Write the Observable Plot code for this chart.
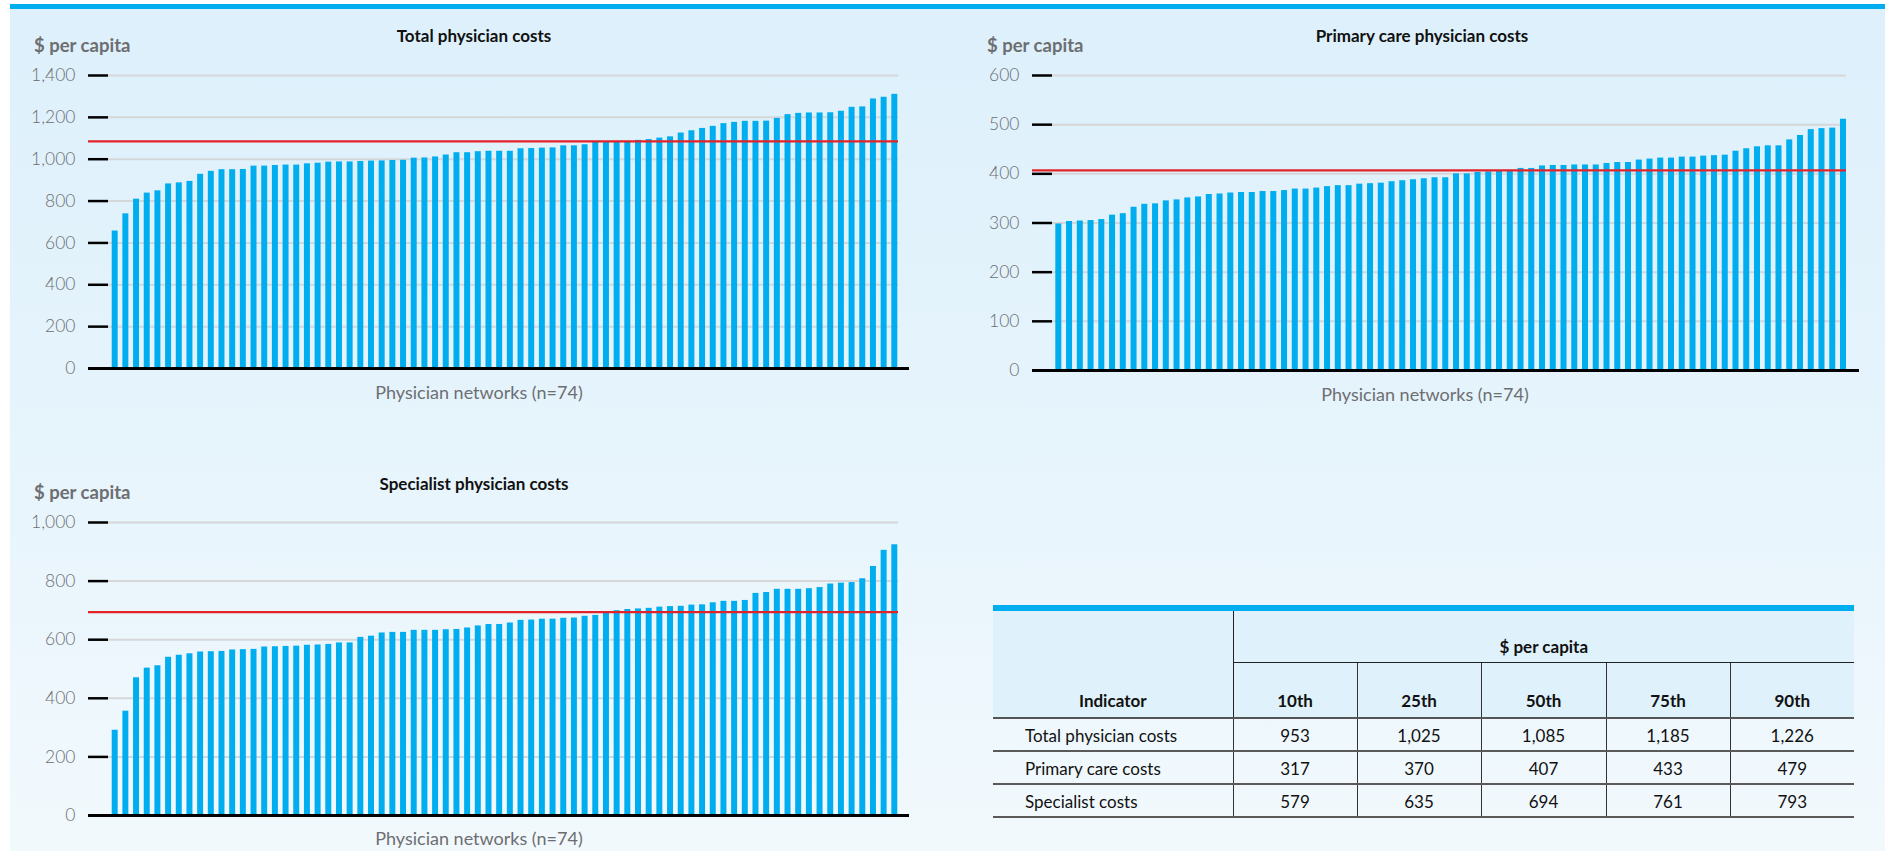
<!DOCTYPE html>
<html>
<head>
<meta charset="utf-8">
<script src="https://cdn.jsdelivr.net/npm/d3@7"></script>
<script src="https://cdn.jsdelivr.net/npm/@observablehq/plot@0.6"></script>
<style>
  html, body { margin: 0; padding: 0; }
  body {
    width: 1885px; height: 851px; position: relative; overflow: hidden;
    background: #ffffff; font-family: Lato, "Open Sans", "DejaVu Sans", sans-serif;
  }
  #panel {
    position: absolute; left: 10px; top: 4px; right: 0; bottom: 0;
    border-top: 5px solid #00aeef;
    background: linear-gradient(to bottom, #ddf0fb 0%, #e6f4fc 50%, #f2f9fd 100%);
  }
  .chart { position: absolute; }
  .chart svg { display: block; }
  .title, .unit, .xlabel { position: absolute; white-space: nowrap; line-height: 20px; }
  .title { font-weight: 700; font-size: 17px; color: #111; transform: translateX(-50%); }
  .unit { font-weight: 700; font-size: 18.5px; color: #6d6e71; }
  .xlabel { font-size: 18px; color: #6d6e71; transform: translateX(-50%); }
  #pct {
    position: absolute; left: 993px; top: 605px; width: 861px;
    border-collapse: collapse; table-layout: fixed;
    font-size: 17px; color: #111;
  }
  #pct thead tr:first-child th { border-top: 6px solid #00aeef; }
  #pct th { background: #dff1fb; font-weight: 700; padding: 0; }
  #pct td { padding: 2px 0 0 0; text-align: center; height: 29px; border-bottom: 2px solid #5a5a5a; border-left: 1.5px solid #333; }
  #pct td.ind { text-align: left; padding-left: 32px; border-left: none; }
</style>
</head>
<body>
<div id="panel"></div>
<div id="root"></div>
<script>
// Per-capita physician costs for each of the 74 physician networks, sorted ascending
const totalCosts = [657, 739, 809, 838, 849, 882, 887, 894, 928, 942,
  950, 950, 951, 967, 967, 970, 972, 972, 978, 981,
  986, 987, 987, 989, 991, 992, 994, 995, 1005, 1006,
  1011, 1020, 1031, 1031, 1036, 1038, 1038,
  1038, 1050, 1051, 1053, 1054, 1064, 1064, 1069, 1083, 1083,
  1083, 1083, 1090, 1094, 1101, 1107, 1125, 1136, 1147, 1157,
  1170, 1176, 1181, 1181, 1182, 1195, 1213, 1219, 1221, 1221,
  1222, 1229, 1248, 1250, 1288, 1296, 1310];

const primaryCosts = [298, 303, 304, 305, 307, 316, 319, 332, 338, 339,
  345, 347, 351, 353, 358, 359, 361, 362, 362, 364,
  364, 366, 369, 369, 371, 374, 376, 376, 379, 380,
  381, 384, 386, 388, 390, 392, 392,
  400, 400, 403, 404, 405, 407, 411, 411, 416, 417,
  417, 418, 418, 418, 421, 423, 423, 428, 430, 432,
  432, 434, 434, 436, 437, 438, 446, 451, 455, 457,
  457, 469, 478, 490, 492, 493, 511];

const specialistCosts = [291, 356, 470, 503, 511, 540, 547, 552, 558, 559,
  560, 565, 566, 567, 575, 576, 577, 578, 581, 582,
  584, 589, 589, 608, 612, 623, 625, 625, 632, 632,
  632, 634, 635, 640, 647, 652, 652,
  657, 666, 667, 670, 670, 673, 674, 680, 683, 691,
  699, 703, 705, 707, 711, 713, 714, 718, 719, 726,
  731, 731, 734, 758, 761, 772, 772, 772, 774, 778,
  790, 793, 795, 808, 850, 905, 924];

// Percentile summary table
const percentiles = ["10th", "25th", "50th", "75th", "90th"];
const indicators = ["Total physician costs", "Primary care costs", "Specialist costs"];
const totalPct = [953, 1025, 1085, 1185, 1226];
const primaryPct = [317, 370, 407, 433, 479];
const specialistPct = [579, 635, 694, 761, 793];

// Y-axis ticks per panel
const totalTicks = [0, 200, 400, 600, 800, 1000, 1200, 1400];
const primaryTicks = [0, 100, 200, 300, 400, 500, 600];
const specialistTicks = [0, 200, 400, 600, 800, 1000];

const chartTitles = ["Total physician costs", "Primary care physician costs", "Specialist physician costs"];
const unitLabel = "$ per capita";
const xLabel = "Physician networks (n=74)";

const fmt = d3.format(",");
const root = document.getElementById("root");

function costChart(o) {
  const data = o.values.map((v, i) => ({network: i + 1, cost: v}));
  return Plot.plot({
    width: o.width, height: o.height,
    marginLeft: o.marginLeft, marginRight: o.marginRight,
    marginTop: o.marginTop, marginBottom: o.marginBottom,
    style: {background: "transparent", overflow: "visible", fontFamily: "Lato, 'Open Sans', sans-serif"},
    x: {type: "band", domain: data.map(d => d.network), range: o.barRange, paddingInner: 0.44, paddingOuter: 0, axis: null},
    y: {domain: [0, o.max], axis: null},
    marks: [
      Plot.ruleY(o.ticks.filter(t => t > 0), {stroke: "#d5d7d9", strokeWidth: 2}),
      Plot.barY(data, {x: "network", y: "cost", fill: "#00aeef"}),
      Plot.ruleY([o.median], {stroke: "#e3232a", strokeWidth: 2.2, insetLeft: -20}),
      Plot.ruleY([0], {stroke: "#000", strokeWidth: 3, insetLeft: -20, insetRight: -o.baseExtra}),
      Plot.axisY({ticks: o.ticks, tickSize: 20, tickPadding: 13, tickFormat: fmt,
        stroke: "#000", strokeWidth: 2.5, fill: "#6d6e71", fontSize: 17.5, fontWeight: 300, label: null})
    ]
  });
}

function addText(cls, text, left, top) {
  const d = document.createElement("div");
  d.className = cls;
  d.textContent = text;
  d.style.left = left + "px";
  d.style.top = top + "px";
  root.appendChild(d);
}

function place(svg, left, top) {
  const d = document.createElement("div");
  d.className = "chart";
  d.style.left = left + "px";
  d.style.top = top + "px";
  d.appendChild(svg);
  root.appendChild(d);
}

// Total physician costs
place(costChart({values: totalCosts, median: totalPct[2], ticks: totalTicks, max: 1400,
  width: 920, height: 380, marginLeft: 108, marginRight: 22, marginTop: 75, marginBottom: 12,
  barRange: [111.7, 897.3], baseExtra: 11}), 0, 0);
addText("title", chartTitles[0], 474, 26);
addText("unit", unitLabel, 34, 35);
addText("xlabel", xLabel, 479, 382);

// Primary care physician costs
place(costChart({values: primaryCosts, median: primaryPct[2], ticks: primaryTicks, max: 600,
  width: 945, height: 382, marginLeft: 112, marginRight: 39, marginTop: 75, marginBottom: 12,
  barRange: [115.3, 906], baseExtra: 13}), 940, 0);
addText("title", chartTitles[1], 1422, 26);
addText("unit", unitLabel, 987, 35);
addText("xlabel", xLabel, 1425, 384);

// Specialist physician costs
place(costChart({values: specialistCosts, median: specialistPct[2], ticks: specialistTicks, max: 1000,
  width: 920, height: 387, marginLeft: 108, marginRight: 22, marginTop: 82, marginBottom: 12,
  barRange: [111.7, 897.3], baseExtra: 11}), 0, 440);
addText("title", chartTitles[2], 474, 474);
addText("unit", unitLabel, 34, 482);
addText("xlabel", xLabel, 479, 828);

// Percentile table
const table = document.createElement("table");
table.id = "pct";
const colgroup = document.createElement("colgroup");
[240, 124, 124, 125, 124, 124].forEach(w => {
  const c = document.createElement("col");
  c.style.width = w + "px";
  colgroup.appendChild(c);
});
table.appendChild(colgroup);
const thead = document.createElement("thead");
const h1 = document.createElement("tr");
const hInd = document.createElement("th");
hInd.rowSpan = 2;
hInd.textContent = "Indicator";
hInd.style.cssText = "vertical-align:bottom;padding-bottom:6px;border-bottom:2.5px solid #555;border-right:1.5px solid #222;";
h1.appendChild(hInd);
const hUnit = document.createElement("th");
hUnit.colSpan = 5;
hUnit.textContent = unitLabel;
hUnit.style.cssText = "height:32px;border-bottom:1.5px solid #222;padding-top:19px;";
h1.appendChild(hUnit);
thead.appendChild(h1);
const h2 = document.createElement("tr");
percentiles.forEach((p, i) => {
  const th = document.createElement("th");
  th.textContent = p;
  th.style.cssText = "height:48px;vertical-align:bottom;padding-bottom:6px;border-bottom:2.5px solid #555;" +
    (i > 0 ? "border-left:1.5px solid #333;" : "");
  h2.appendChild(th);
});
thead.appendChild(h2);
table.appendChild(thead);
const tbody = document.createElement("tbody");
[totalPct, primaryPct, specialistPct].forEach((row, r) => {
  const tr = document.createElement("tr");
  const td0 = document.createElement("td");
  td0.className = "ind";
  td0.textContent = indicators[r];
  tr.appendChild(td0);
  row.forEach(v => {
    const td = document.createElement("td");
    td.textContent = fmt(v);
    tr.appendChild(td);
  });
  tbody.appendChild(tr);
});
table.appendChild(tbody);
root.appendChild(table);
</script>
</body>
</html>
